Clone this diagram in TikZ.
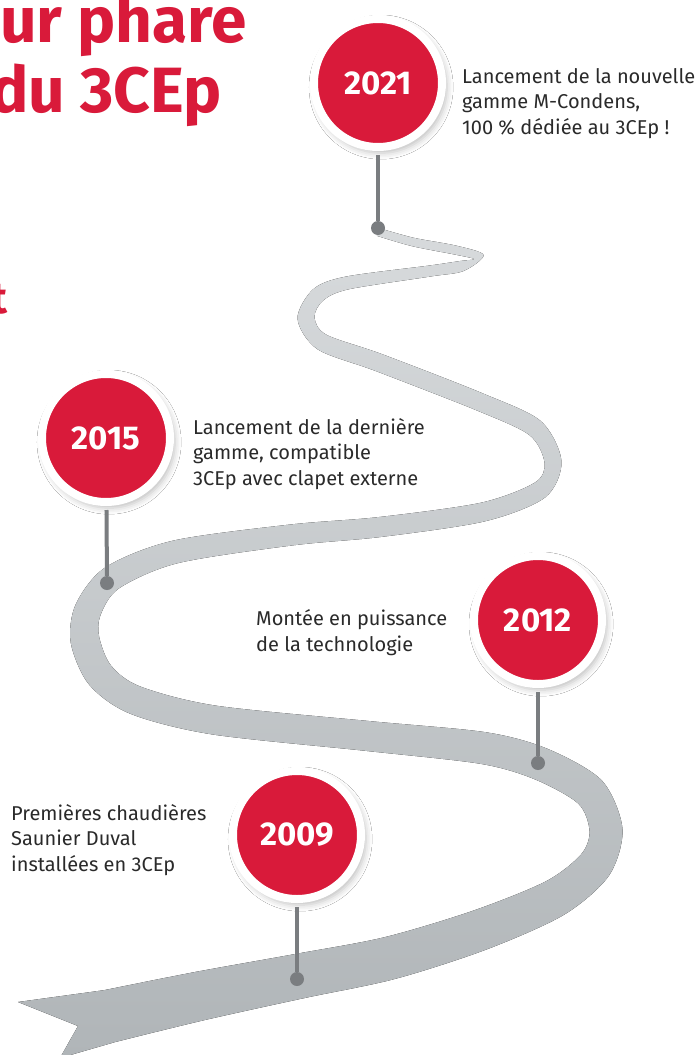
\documentclass[tikz,border=0pt]{standalone}
\usepackage{fontspec}
\setmainfont{Fira Sans}
\usetikzlibrary{calc,shadows.blur}

\definecolor{mred}{HTML}{D91A3A}
\definecolor{roadtop}{HTML}{D7DADC}
\definecolor{roadbot}{HTML}{B0B5B8}
\definecolor{pincol}{HTML}{7A7D80}
\definecolor{txt}{HTML}{2A2A2A}

\begin{document}
\begin{tikzpicture}[x=1pt,y=-1pt,
  year/.style={circle,fill=mred,draw=white,line width=8pt,minimum size=128pt,inner sep=0pt,
    text=white,font=\fontsize{33}{33}\selectfont\bfseries,
    blur shadow={shadow xshift=3pt,shadow yshift=-4pt,shadow blur radius=6pt,shadow opacity=25,shadow scale=1.03}},
  pindot/.style={circle,fill=pincol,minimum size=14pt,inner sep=0pt},
  stem/.style={draw=pincol,line width=4pt,shorten <=4pt},
  note/.style={anchor=base west,inner sep=0pt,align=left,text=txt,font=\fontsize{20}{25.5}\selectfont},
  headline/.style={anchor=base east,inner sep=0pt,text=mred,font=\fontsize{64}{64}\selectfont\bfseries}]

\useasboundingbox (0,0) rectangle (698,1055);
\clip (0,0) rectangle (698,1055);
\fill[white] (0,0) rectangle (698,1055);

\node[headline] at (247,42) (h1) {ur phare};
\node[headline] at (222,112) (h2) {du 3CEp};
\node[headline,font=\fontsize{44}{44}\selectfont\bfseries] at (8,313) (h3) {t};

\foreach [count=\i] \px/\py in {378/232,413/242,455/250,479/257,462/266,430/271,347/283,318/295,
  306/318,322/342,380/363,480/402,535/428,553/462,540/490,483/512,380/527,291/535,175/552,
  112/578,88/610,85/640,100/675,135/700,214/720,368/736,483/748,541/764,590/792,606/830,
  595/865,555/898,480/930,390/958,300/976,200/996,110/1016}
  \coordinate (c\i) at (\px,\py);

\foreach [count=\i] \hw in {4,4.25,4.5,5,5.25,5.5,6.5,7.5,8.5,8.5,9,9,9,8.5,9,9.5,10,10.5,11.5,
  12.5,13.5,14.5,14.5,14.5,14.5,15,16,16.5,16.5,16.5,17.5,19,20.5,21.5,22.5,24.5,26.5} {
  \pgfmathtruncatemacro\ipx{max(\i-1,1)}
  \pgfmathtruncatemacro\inx{min(\i+1,37)}
  \coordinate (t\i) at ($(c\i)+(c\inx)-(c\ipx)$);
  \coordinate (l\i) at ($(c\i)!\hw pt!90:(t\i)$);
  \coordinate (r\i) at ($(c\i)!\hw pt!-90:(t\i)$);
}

\fill[top color=roadtop,bottom color=roadbot]
  plot[smooth] coordinates {(l1) (l2) (l3) (l4) (l5) (l6) (l7) (l8) (l9) (l10) (l11) (l12) (l13)
    (l14) (l15) (l16) (l17) (l18) (l19) (l20) (l21) (l22) (l23) (l24) (l25) (l26) (l27) (l28)
    (l29) (l30) (l31) (l32) (l33) (l34) (l35) (l36) (l37)}
  -- (60,1058) -- (78,1026) -- (18,1002)
  -- plot[smooth] coordinates {(r37) (r36) (r35) (r34) (r33) (r32) (r31) (r30) (r29) (r28) (r27)
    (r26) (r25) (r24) (r23) (r22) (r21) (r20) (r19) (r18) (r17) (r16) (r15) (r14) (r13) (r12)
    (r11) (r10) (r9) (r8) (r7) (r6) (r5) (r4) (r3) (r2) (r1)} -- cycle;

\node[pindot] at (378,228) (d2021) {};
\node[pindot] at (107,583) (d2015) {};
\node[pindot] at (538,763) (d2012) {};
\node[pindot] at (297,979) (d2009) {};

\node[year] at (378,83) (y2021) {2021};
\node[year] at (106,438) (y2015) {2015};
\node[year] at (538,620) (y2012) {2012};
\node[year] at (297,835) (y2009) {2009};

\draw[stem] (y2021) -- (d2021);
\draw[stem] (y2015) -- (d2015);
\draw[stem] (y2012) -- (d2012);
\draw[stem] (y2009) -- (d2009);

\node[note] at (462,134) (n2021) {Lancement de la nouvelle\\gamme M-Condens,\\100~\% dédiée au 3CEp~!};
\node[note] at (193,485) (n2015) {Lancement de la dernière\\gamme, compatible\\3CEp avec clapet externe};
\node[note] at (256,651) (n2012) {Montée en puissance\\de la technologie};
\node[note] at (11,871) (n2009) {Premières chaudières\\Saunier Duval\\installées en 3CEp};

\end{tikzpicture}
\end{document}
